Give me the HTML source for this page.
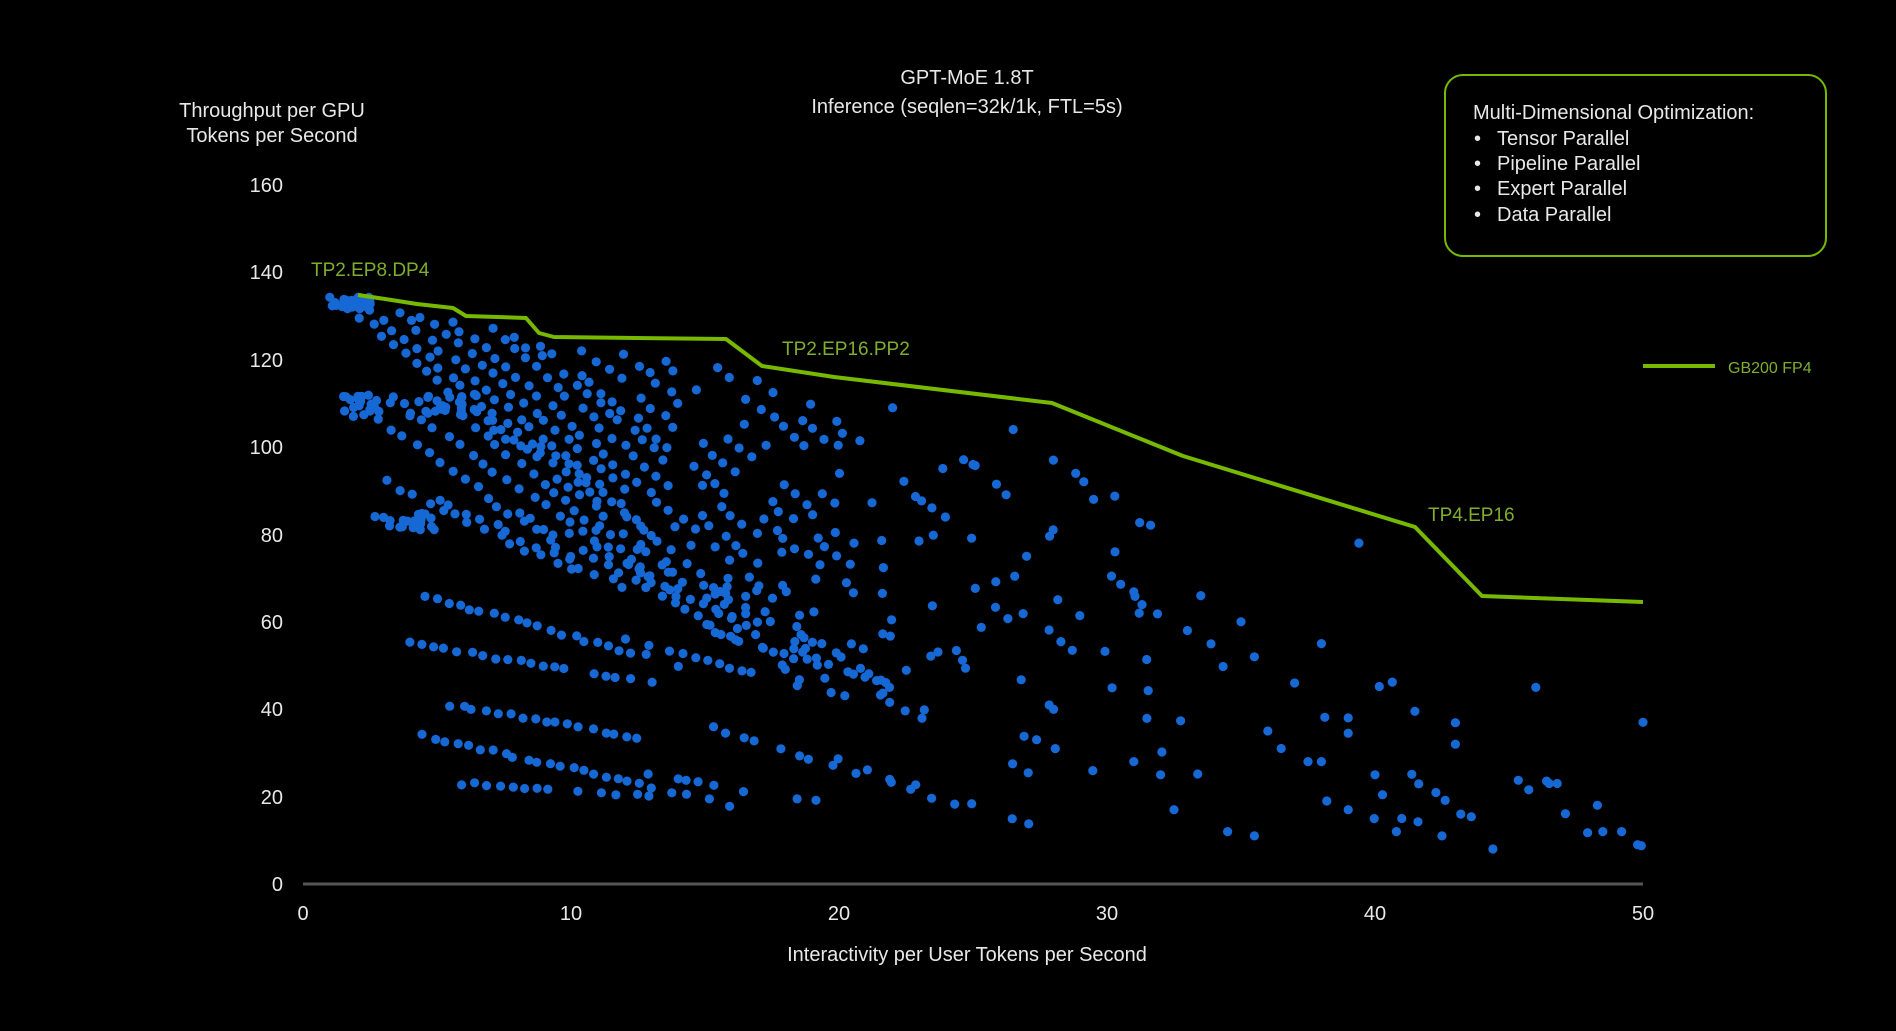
<!DOCTYPE html>
<html><head><meta charset="utf-8"><style>
html,body{margin:0;padding:0;background:#000;}
body{width:1896px;height:1031px;overflow:hidden;position:relative;font-family:"Liberation Sans",sans-serif;color:#e8e8e8;}
</style></head><body>
<svg id="s" width="1896" height="1031" style="position:absolute;left:0;top:0">
<g id="dots" fill="#1668d4"></g>
<line x1="303" y1="884" x2="1643" y2="884" stroke="#555" stroke-width="3"/>
<polyline fill="none" stroke="#76b900" stroke-width="4" stroke-linejoin="round" points="358,295 385,299 417,304 453,308 466,316 526,318 539,333 554,337 726,339 762,366 834,377 1052,403 1183,456 1415,527 1482,596 1643,602"/>
<line x1="1643" y1="366" x2="1715" y2="366" stroke="#76b900" stroke-width="4"/>
<rect x="1445" y="75" width="381" height="181" rx="18" fill="none" stroke="#76b900" stroke-width="2"/>
<g font-family="Liberation Sans, sans-serif" font-size="20" fill="#e8e8e8">
<text x="967" y="84" text-anchor="middle">GPT-MoE 1.8T</text>
<text x="967" y="113" text-anchor="middle">Inference (seqlen=32k/1k, FTL=5s)</text>
<text x="272" y="117" text-anchor="middle">Throughput per GPU</text>
<text x="272" y="142" text-anchor="middle">Tokens per Second</text>
<text x="283" y="192" text-anchor="end">160</text>
<text x="283" y="279" text-anchor="end">140</text>
<text x="283" y="367" text-anchor="end">120</text>
<text x="283" y="454" text-anchor="end">100</text>
<text x="283" y="542" text-anchor="end">80</text>
<text x="283" y="629" text-anchor="end">60</text>
<text x="283" y="716" text-anchor="end">40</text>
<text x="283" y="804" text-anchor="end">20</text>
<text x="283" y="891" text-anchor="end">0</text>
<text x="303" y="920" text-anchor="middle">0</text>
<text x="571" y="920" text-anchor="middle">10</text>
<text x="839" y="920" text-anchor="middle">20</text>
<text x="1107" y="920" text-anchor="middle">30</text>
<text x="1375" y="920" text-anchor="middle">40</text>
<text x="1643" y="920" text-anchor="middle">50</text>
<text x="967" y="961" text-anchor="middle">Interactivity per User Tokens per Second</text>
<text x="1473" y="119">Multi-Dimensional Optimization:</text>
<text x="1474" y="145">•</text><text x="1497" y="145">Tensor Parallel</text>
<text x="1474" y="170">•</text><text x="1497" y="170">Pipeline Parallel</text>
<text x="1474" y="195">•</text><text x="1497" y="195">Expert Parallel</text>
<text x="1474" y="221">•</text><text x="1497" y="221">Data Parallel</text>
</g>
<g font-family="Liberation Sans, sans-serif" font-size="19" fill="#7fae2e">
<text x="311" y="276">TP2.EP8.DP4</text>
<text x="782" y="355">TP2.EP16.PP2</text>
<text x="1428" y="521">TP4.EP16</text>
<text x="1728" y="373" font-size="16">GB200 FP4</text>
</g>
</svg>
<script>
var seed=7;function r(){seed=(seed*16807)%2147483647;return seed/2147483647;}
var X=function(v){return 303+26.8*v},Y=function(v){return 884-4.37*v};
var g=document.getElementById('dots'),h='';
function dot(x,y,keep){if(x<0.8||x>50||y<5)return;
 if(!keep){var p=x<8?1:Math.max(0.18,1-(x-8)/22);if(r()>p)return;}
 h+='<circle cx="'+X(x).toFixed(1)+'" cy="'+Y(y).toFixed(1)+'" r="4.6"/>';}
function chain(x0,y0,x1,y1,step,j){var L=Math.hypot(x1-x0,(y1-y0)/5);var n=Math.max(2,Math.round(L/step));for(var i=0;i<=n;i++){var t=i/n;dot(x0+(x1-x0)*t+(r()-.5)*j,y0+(y1-y0)*t+(r()-.5)*j*3);}}
for(var i=0;i<40;i++)dot(1+r()*1.6,131.5+r()*3,1);
for(var i=0;i<45;i++)dot(1.5+r()*5,107+r()*5,1);
for(var i=0;i<20;i++)dot(2.5+r()*2.5,81+r()*4,1);
var steep=[[1.8,132,8,100],[2.5,131,11,88],[3.5,131,13,80],[4.5,130,15,75],[5.5,129,17,68],[7,127,19,62],[8,125,22,55],[9,123,24,50],[10.5,122,26,45],[12,121,28,40],[13.5,120,30,35],[15,120,32,30],[17,115,34,25],[19,110,36,20],[20,100,40,15],[22,110,42,12],[24,95,45,10],[26.5,104,48,12],[28,96,50,9],
[2,110,10,75],[4,108,14,65],[6,107,16,55],[7,106,18,50],[9,100,20,45],[3,92,10,72],[5,88,12,68],[8,85,20,42],[10,80,24,35],[12,78,26,28],[11,82,22,45],[14,75,28,22],[16,70,32,18],[21,60,38,12]];
steep.forEach(function(c){chain(c[0],c[1],c[2],c[3],0.6,0.3);});
var rows=[[4.5,66,14,50],[4,55,13,46],[5.5,41,13,33],[4.5,34,16,18],[6,23,13,20],[12,56,22,40],[14,38,26,15],[15,58,24,42],[13,25,21,17],[19,30,27,14]];
rows.forEach(function(c){chain(c[0],c[1],c[2],c[3],0.45,0.25);});
var sp=[[39.4,78],[33.5,66],[31.2,62],[35,60],[35.5,52],[37,46],[38,55],[39,38],[40,25],[41,15],[43,32],[43.2,16],[42.5,11],[44.4,8],[46,45],[46.8,23],[48.3,18],[48.5,12],[49.2,12],[49.8,9],[50,37],[46.5,23],[36,35],[37.5,28],[38.2,19],[39,17],[40.8,12],[32.5,17],[34.5,12],[35.5,11],[30.3,76],[29.5,88],[28,97],[26.5,104],[22,109],[25,96],[27,75],[33,58],[36.5,31],[38,28],[31,28],[32,25]];
sp.forEach(function(p){dot(p[0],p[1],1);});
g.innerHTML=h;
</script>
</body></html>
